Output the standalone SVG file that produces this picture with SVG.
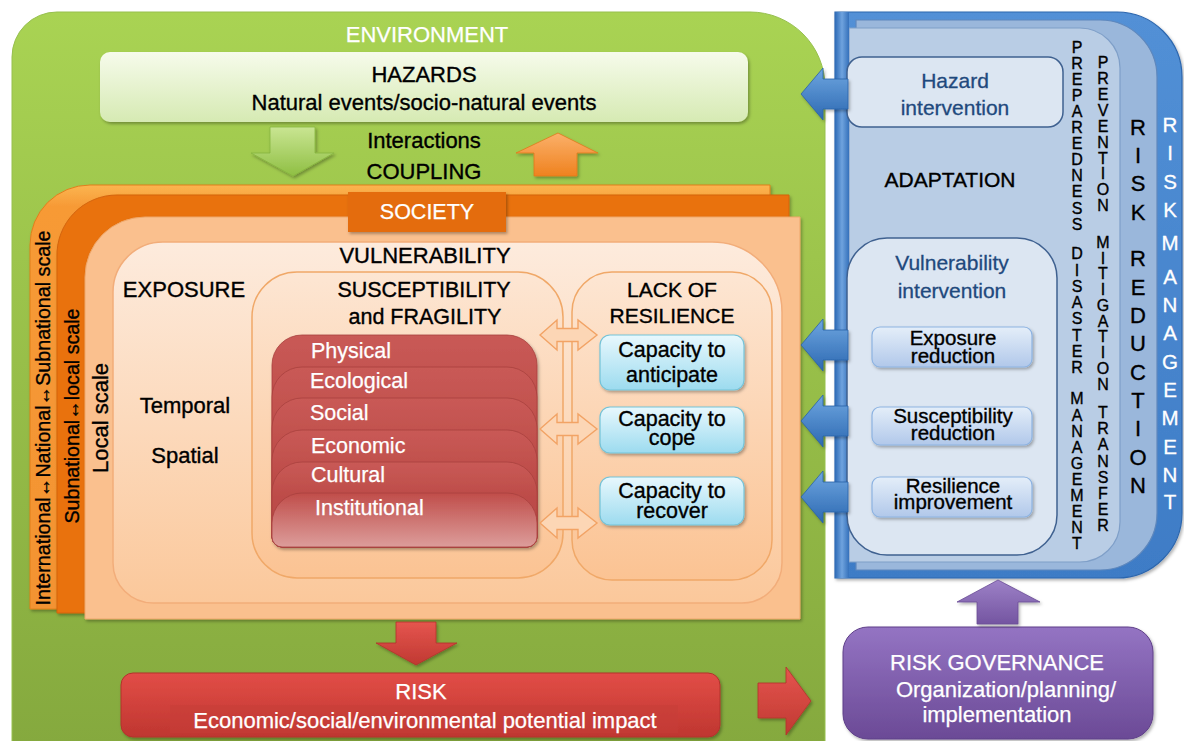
<svg xmlns="http://www.w3.org/2000/svg" width="1184" height="741" viewBox="0 0 1184 741">
<defs>
<linearGradient id="gGreen" x1="0" y1="0" x2="0" y2="1"><stop offset="0" stop-color="#a9d353"/><stop offset="1" stop-color="#85a93e"/></linearGradient>
<linearGradient id="gHaz" x1="0" y1="0" x2="0" y2="1"><stop offset="0" stop-color="#f6fbeb"/><stop offset="1" stop-color="#d6eab3"/></linearGradient>
<linearGradient id="gArrG" x1="0" y1="0" x2="0" y2="1"><stop offset="0" stop-color="#c9e592"/><stop offset="1" stop-color="#8fbf43"/></linearGradient>
<linearGradient id="gArrO" x1="0" y1="0" x2="0" y2="1"><stop offset="0" stop-color="#fbb06a"/><stop offset="1" stop-color="#ef821f"/></linearGradient>
<linearGradient id="gBand1" x1="0" y1="0" x2="0" y2="1"><stop offset="0" stop-color="#fbb550"/><stop offset="0.05" stop-color="#f79a36"/><stop offset="1" stop-color="#f39332"/></linearGradient>
<linearGradient id="gVul" x1="0" y1="0" x2="0" y2="1"><stop offset="0" stop-color="#fdebdd"/><stop offset="1" stop-color="#fbc89b"/></linearGradient>
<linearGradient id="gSus" x1="0" y1="0" x2="0" y2="1"><stop offset="0" stop-color="#fde6d3"/><stop offset="1" stop-color="#fbc393"/></linearGradient>
<linearGradient id="gRed" x1="0" y1="0" x2="0" y2="1"><stop offset="0" stop-color="#c95a56"/><stop offset="0.4" stop-color="#bd4c49"/><stop offset="1" stop-color="#b84744"/></linearGradient>
<linearGradient id="gRedLast" x1="0" y1="0" x2="0" y2="1"><stop offset="0" stop-color="#c04d4a"/><stop offset="1" stop-color="#dc9d9b"/></linearGradient>
<linearGradient id="gCap" x1="0" y1="0" x2="0" y2="1"><stop offset="0" stop-color="#e8f8fd"/><stop offset="1" stop-color="#9cdbef"/></linearGradient>
<linearGradient id="gBlue" x1="0" y1="0" x2="0" y2="1"><stop offset="0" stop-color="#5290d6"/><stop offset="1" stop-color="#3e7cc6"/></linearGradient>
<linearGradient id="gBlueH" x1="0" y1="0" x2="1" y2="0"><stop offset="0" stop-color="#2e6bb6"/><stop offset="0.5" stop-color="#6fa3de"/><stop offset="1" stop-color="#3571bb"/></linearGradient>
<linearGradient id="gBArr" x1="0" y1="0" x2="0" y2="1"><stop offset="0" stop-color="#6ea6e0"/><stop offset="1" stop-color="#2d69b2"/></linearGradient>
<linearGradient id="gInner" x1="0" y1="0" x2="0" y2="1"><stop offset="0" stop-color="#e4eef9"/><stop offset="1" stop-color="#b1c8ea"/></linearGradient>
<linearGradient id="gPur" x1="0" y1="0" x2="0" y2="1"><stop offset="0" stop-color="#9474c3"/><stop offset="1" stop-color="#6b4a96"/></linearGradient>
<linearGradient id="gPArr" x1="0" y1="0" x2="0" y2="1"><stop offset="0" stop-color="#9d81c7"/><stop offset="1" stop-color="#7455a1"/></linearGradient>
<linearGradient id="gRisk" x1="0" y1="0" x2="0" y2="1"><stop offset="0" stop-color="#e24d47"/><stop offset="1" stop-color="#bf3630"/></linearGradient>
<linearGradient id="gRArr" x1="0" y1="0" x2="0" y2="1"><stop offset="0" stop-color="#e5554e"/><stop offset="1" stop-color="#c03932"/></linearGradient>
<filter id="sh" x="-10%" y="-10%" width="125%" height="130%"><feDropShadow dx="1.5" dy="2" stdDeviation="1.5" flood-color="#000" flood-opacity="0.3"/></filter>
</defs>
<style>
text{font-family:"Liberation Sans",Arial,Helvetica,sans-serif;fill:#000;stroke:#000;stroke-width:0.35}
.c{text-anchor:middle}
.w{fill:#fff;stroke:#fff;stroke-width:0.25}
.f22{font-size:22px}
.f21{font-size:21px}
.f20{font-size:20.5px}
.db{fill:#1f497d;stroke:#1f497d;stroke-width:0.3}
.red{stroke:#a8403d;stroke-width:0.8}
.cap{fill:url(#gCap);stroke:#74c3d8;stroke-width:1.2}
.ib{fill:url(#gInner);stroke:#8db3e2;stroke-width:1.2}
.intv{fill:#dce6f2;stroke:#3f6190;stroke-width:1.5}
.dbl{fill:#fcd6b5;stroke:#f2a365;stroke-width:1.4}
.barr{fill:url(#gBArr);stroke:#2a62a8;stroke-width:0.8}
.l16{font-size:16px;text-anchor:middle}
.l22{font-size:22px;text-anchor:middle}
.l20{font-size:20.5px;text-anchor:middle;fill:#fff;stroke:#fff;stroke-width:0.3}
</style>
<rect x="0" y="0" width="1184" height="741" fill="#fff"/>

<g id="environment">
<path d="M12,57 A45,45 0 0 1 57,12 H750 A75,75 0 0 1 825,87 V745 H12 Z" fill="url(#gGreen)" stroke="#97c04f" stroke-width="1"/>
<text x="427" y="42" class="c w f22">ENVIRONMENT</text>
</g>

<g id="hazards">
<rect x="100" y="52" width="648" height="70" rx="10" fill="url(#gHaz)" filter="url(#sh)"/>
<text x="424" y="82" class="c f22">HAZARDS</text>
<text x="424" y="110" class="c f22">Natural events/socio-natural events</text>
</g>

<g id="coupling">
<text x="424" y="148" class="c f22">Interactions</text>
<text x="424" y="179" class="c f22">COUPLING</text>
</g>

<g id="society">
<path d="M30,245 A60,60 0 0 1 90,185 H770 V609 H30 Z" fill="url(#gBand1)" stroke="#e07f1c" stroke-width="1" filter="url(#sh)"/>
<path d="M57,257 A60,60 0 0 1 117,195 H789 V613 H57 Z" fill="#e9720e" stroke="#d4640a" stroke-width="1" filter="url(#sh)"/>
<path d="M85,277 A60,60 0 0 1 145,217 H800 V619 H85 Z" fill="#fac08e" stroke="#eea76a" stroke-width="1" filter="url(#sh)"/>
<rect x="348" y="192" width="158" height="40" fill="#e46c0a" filter="url(#sh)"/>
<text x="427" y="219" class="c w" font-size="21.5">SOCIETY</text>
<text transform="translate(43,418) rotate(-90)" y="7" class="c" font-size="20.5" textLength="375" lengthAdjust="spacingAndGlyphs">International↔National↔Subnational scale</text>
<text transform="translate(72,416) rotate(-90)" y="7" class="c" font-size="20.5" textLength="215" lengthAdjust="spacingAndGlyphs">Subnational↔local scale</text>
<text transform="translate(100,418) rotate(-90)" y="8" class="c" font-size="22">Local scale</text>
</g>

<g id="vulnerability">
<path d="M113,292 A50,50 0 0 1 163,242 H712 A70,70 0 0 1 782,312 V563 A40,40 0 0 1 742,603 H153 A40,40 0 0 1 113,563 Z" fill="url(#gVul)" stroke="#f2ad7a" stroke-width="1.5"/>
<text x="425" y="263" class="c f22">VULNERABILITY</text>
</g>

<g id="exposure">
<text x="184" y="297" class="c f22">EXPOSURE</text>
<text x="185" y="413" class="c f22">Temporal</text>
<text x="185" y="463" class="c f22">Spatial</text>
</g>

<g id="susceptibility">
<rect x="252" y="272" width="311" height="306" rx="45" fill="url(#gSus)" stroke="#f0a868" stroke-width="1.5"/>
<text x="424" y="297" class="c" font-size="21.5">SUSCEPTIBILITY</text>
<text x="425" y="324" class="c" font-size="21.5">and FRAGILITY</text>
<g id="fragility-stack" filter="url(#sh)">
<path class="red" fill="url(#gRed)" d="M272,365 A30,30 0 0 1 302,335 H507 A30,30 0 0 1 537,365 V537 A10,10 0 0 1 527,547 H282 A10,10 0 0 1 272,537 Z"/>
<path class="red" fill="url(#gRed)" d="M272,397 A30,30 0 0 1 302,367 H507 A30,30 0 0 1 537,397 V537 A10,10 0 0 1 527,547 H282 A10,10 0 0 1 272,537 Z"/>
<path class="red" fill="url(#gRed)" d="M272,428 A30,30 0 0 1 302,398 H507 A30,30 0 0 1 537,428 V537 A10,10 0 0 1 527,547 H282 A10,10 0 0 1 272,537 Z"/>
<path class="red" fill="url(#gRed)" d="M272,460 A30,30 0 0 1 302,430 H507 A30,30 0 0 1 537,460 V537 A10,10 0 0 1 527,547 H282 A10,10 0 0 1 272,537 Z"/>
<path class="red" fill="url(#gRed)" d="M272,492 A30,30 0 0 1 302,462 H507 A30,30 0 0 1 537,492 V537 A10,10 0 0 1 527,547 H282 A10,10 0 0 1 272,537 Z"/>
<path class="red" fill="url(#gRedLast)" d="M272,523 A30,30 0 0 1 302,493 H507 A30,30 0 0 1 537,523 V537 A10,10 0 0 1 527,547 H282 A10,10 0 0 1 272,537 Z"/>
</g>
<text x="311" y="358" class="w" font-size="21.5">Physical</text>
<text x="310" y="388" class="w" font-size="21.5">Ecological</text>
<text x="310" y="420" class="w" font-size="21.5">Social</text>
<text x="311" y="453" class="w" font-size="21.5">Economic</text>
<text x="311" y="482" class="w" font-size="21.5">Cultural</text>
<text x="315" y="515" class="w" font-size="21.5">Institutional</text>
</g>

<g id="lack-of-resilience">
<rect x="572" y="272" width="200" height="308" rx="40" fill="url(#gSus)" stroke="#f0a868" stroke-width="1.5"/>
<text x="672" y="297" class="c" font-size="21">LACK OF</text>
<text x="672" y="323" class="c" font-size="21">RESILIENCE</text>
</g>

<g id="capacity-anticipate">
<rect x="600" y="335" width="144" height="55" rx="10" class="cap" filter="url(#sh)"/>
<text x="672" y="357" class="c" font-size="21.5">Capacity to</text>
<text x="672" y="382" class="c" font-size="21.5">anticipate</text>
</g>
<g id="capacity-cope">
<rect x="600" y="407" width="144" height="46" rx="10" class="cap" filter="url(#sh)"/>
<text x="672" y="426" class="c" font-size="21.5">Capacity to</text>
<text x="672" y="445" class="c" font-size="21.5">cope</text>
</g>
<g id="capacity-recover">
<rect x="600" y="477" width="144" height="48" rx="10" class="cap" filter="url(#sh)"/>
<text x="672" y="498" class="c" font-size="21.5">Capacity to</text>
<text x="672" y="518" class="c" font-size="21.5">recover</text>
</g>

<g id="risk-management">
<path d="M835,12 H1117 A65,65 0 0 1 1182,77 V513 A65,65 0 0 1 1117,578 H835 Z" fill="url(#gBlue)" stroke="#2c66ae" stroke-width="1.2" filter="url(#sh)"/>
<text class="l20"><tspan x="1170" y="132">R</tspan><tspan x="1170" y="160">I</tspan><tspan x="1170" y="189">S</tspan><tspan x="1170" y="217">K</tspan><tspan x="1170" y="250">M</tspan><tspan x="1170" y="284">A</tspan><tspan x="1170" y="312">N</tspan><tspan x="1170" y="340">A</tspan><tspan x="1170" y="369">G</tspan><tspan x="1170" y="397">E</tspan><tspan x="1170" y="425">M</tspan><tspan x="1170" y="454">E</tspan><tspan x="1170" y="482">N</tspan><tspan x="1170" y="509">T</tspan></text>
</g>

<g id="risk-reduction">
<path d="M856,20 H1100 A57,57 0 0 1 1157,77 V513 A57,57 0 0 1 1100,570 H856 Z" fill="#9ab7db" stroke="#5f88bd" stroke-width="1.2"/>
<text class="l22"><tspan x="1138" y="134.5">R</tspan><tspan x="1138" y="163">I</tspan><tspan x="1138" y="191">S</tspan><tspan x="1138" y="219.5">K</tspan><tspan x="1138" y="266">R</tspan><tspan x="1138" y="294.5">E</tspan><tspan x="1138" y="323">D</tspan><tspan x="1138" y="351">U</tspan><tspan x="1138" y="379.5">C</tspan><tspan x="1138" y="408">T</tspan><tspan x="1138" y="436">I</tspan><tspan x="1138" y="464.5">O</tspan><tspan x="1138" y="493">N</tspan></text>
</g>

<g id="adaptation-panel">
<path d="M849,28 H1080 A40,40 0 0 1 1120,68 V522 A40,40 0 0 1 1080,562 H849 Z" fill="#b9cde5" stroke="#7f9fc8" stroke-width="1.2"/>
<rect x="835" y="12" width="14" height="566" fill="url(#gBlueH)"/>
<text x="950" y="187" class="c f21">ADAPTATION</text>
</g>

<g id="preparedness">
<text class="l16"><tspan x="1077" y="53">P</tspan><tspan x="1077" y="69">R</tspan><tspan x="1077" y="85">E</tspan><tspan x="1077" y="101">P</tspan><tspan x="1077" y="117">A</tspan><tspan x="1077" y="133">R</tspan><tspan x="1077" y="149">E</tspan><tspan x="1077" y="165">D</tspan><tspan x="1077" y="181">N</tspan><tspan x="1077" y="197">E</tspan><tspan x="1077" y="213.5">S</tspan><tspan x="1077" y="229.5">S</tspan><tspan x="1077" y="259">D</tspan><tspan x="1077" y="275.5">I</tspan><tspan x="1077" y="291.5">S</tspan><tspan x="1077" y="308">A</tspan><tspan x="1077" y="324">S</tspan><tspan x="1077" y="340.5">T</tspan><tspan x="1077" y="356.5">E</tspan><tspan x="1077" y="372.5">R</tspan><tspan x="1077" y="404">M</tspan><tspan x="1077" y="420.5">A</tspan><tspan x="1077" y="436.5">N</tspan><tspan x="1077" y="452.5">A</tspan><tspan x="1077" y="468.5">G</tspan><tspan x="1077" y="485">E</tspan><tspan x="1077" y="501">M</tspan><tspan x="1077" y="517">E</tspan><tspan x="1077" y="533">N</tspan><tspan x="1077" y="549">T</tspan></text>
</g>

<g id="prevention">
<text class="l16"><tspan x="1103" y="67.5">P</tspan><tspan x="1103" y="83.5">R</tspan><tspan x="1103" y="99.5">E</tspan><tspan x="1103" y="115.5">V</tspan><tspan x="1103" y="131.5">E</tspan><tspan x="1103" y="147.5">N</tspan><tspan x="1103" y="163.5">T</tspan><tspan x="1103" y="179">I</tspan><tspan x="1103" y="195">O</tspan><tspan x="1103" y="211">N</tspan><tspan x="1103" y="247.5">M</tspan><tspan x="1103" y="263.5">I</tspan><tspan x="1103" y="279">T</tspan><tspan x="1103" y="295">I</tspan><tspan x="1103" y="310.5">G</tspan><tspan x="1103" y="326.5">A</tspan><tspan x="1103" y="342">T</tspan><tspan x="1103" y="358">I</tspan><tspan x="1103" y="373.5">O</tspan><tspan x="1103" y="389.5">N</tspan><tspan x="1103" y="417.5">T</tspan><tspan x="1103" y="434">R</tspan><tspan x="1103" y="450">A</tspan><tspan x="1103" y="466.5">N</tspan><tspan x="1103" y="482.5">S</tspan><tspan x="1103" y="498.5">F</tspan><tspan x="1103" y="515">E</tspan><tspan x="1103" y="531">R</tspan></text>
</g>

<g id="hazard-intervention">
<rect x="847" y="57" width="216" height="70" rx="15" class="intv"/>
<text x="955" y="88" class="c db" font-size="21">Hazard</text>
<text x="955" y="115" class="c db" font-size="21">intervention</text>
</g>

<g id="vulnerability-intervention">
<rect x="847" y="238" width="210" height="317" rx="40" class="intv"/>
<text x="952" y="270" class="c db f21">Vulnerability</text>
<text x="952" y="298" class="c db f21">intervention</text>
</g>

<g id="exposure-reduction">
<rect x="872" y="327" width="160" height="40" rx="8" class="ib" filter="url(#sh)"/>
<text x="953" y="345" class="c" font-size="20.5">Exposure</text>
<text x="953" y="363" class="c" font-size="20.5">reduction</text>
</g>
<g id="susceptibility-reduction">
<rect x="872" y="407" width="160" height="38" rx="8" class="ib" filter="url(#sh)"/>
<text x="953" y="423" class="c" font-size="20.5">Susceptibility</text>
<text x="953" y="440" class="c" font-size="20.5">reduction</text>
</g>
<g id="resilience-improvement">
<rect x="872" y="477" width="160" height="40" rx="8" class="ib" filter="url(#sh)"/>
<text x="953" y="493" class="c" font-size="20.5">Resilience</text>
<text x="953" y="509" class="c" font-size="20.5">improvement</text>
</g>

<g id="risk">
<rect x="121" y="673" width="599" height="64" rx="12" fill="url(#gRisk)" stroke="#b3322c" stroke-width="1" filter="url(#sh)"/>
<rect x="170" y="705" width="508" height="28" fill="#c63e38" opacity="0.55"/>
<text x="421" y="699" class="c w f22">RISK</text>
<text x="425" y="728" class="c w f22">Economic/social/environmental potential impact</text>
</g>

<g id="risk-governance">
<rect x="843" y="627" width="310" height="112" rx="25" fill="url(#gPur)" stroke="#5e3f88" stroke-width="1" filter="url(#sh)"/>
<text x="997" y="670" class="c w f22">RISK GOVERNANCE</text>
<text x="1006" y="697" class="c w f22">Organization/planning/</text>
<text x="997" y="722" class="c w f22">implementation</text>
</g>

<g id="connectors">
<polygon points="270,127 315,127 315,153 334,153 293,176 251,153 270,153" fill="url(#gArrG)" stroke="#86b440" stroke-width="0.8" filter="url(#sh)"/>
<polygon points="558,133 598,153 577,153 577,176 534,176 534,153 516,153" fill="url(#gArrO)" stroke="#e07a1a" stroke-width="0.8" filter="url(#sh)"/>
<path class="dbl" d="M540,335 L557,320 V328.5 H578 V320 L597,335 L578,350 V341.5 H557 V350 Z"/>
<path class="dbl" d="M540,429 L557,414 V422.5 H578 V414 L597,429 L578,444 V435.5 H557 V444 Z"/>
<path class="dbl" d="M540,523 L557,508 V516.5 H578 V508 L597,523 L578,538 V529.5 H557 V538 Z"/>
<path class="barr" filter="url(#sh)" d="M801,94 L823,68 V79 H848 V109 H823 V120 Z"/>
<path class="barr" filter="url(#sh)" d="M801,345 L823,319 V330 H848 V360 H823 V371 Z"/>
<path class="barr" filter="url(#sh)" d="M801,421 L823,395 V406 H848 V436 H823 V447 Z"/>
<path class="barr" filter="url(#sh)" d="M801,497 L823,471 V482 H848 V512 H823 V523 Z"/>
<polygon points="396,622 436,622 436,643 457,643 416,665 376,643 396,643" fill="url(#gRArr)" stroke="#b3322c" stroke-width="0.8" filter="url(#sh)"/>
<polygon points="758,683 786,683 786,667 811,701 786,735 786,718 758,718" fill="url(#gRArr)" stroke="#b3322c" stroke-width="0.8" filter="url(#sh)"/>
<polygon points="998,580 1040,602 1018,602 1018,624 977,624 977,602 957,602" fill="url(#gPArr)" stroke="#6a4b96" stroke-width="0.8" filter="url(#sh)"/>
</g>
</svg>
